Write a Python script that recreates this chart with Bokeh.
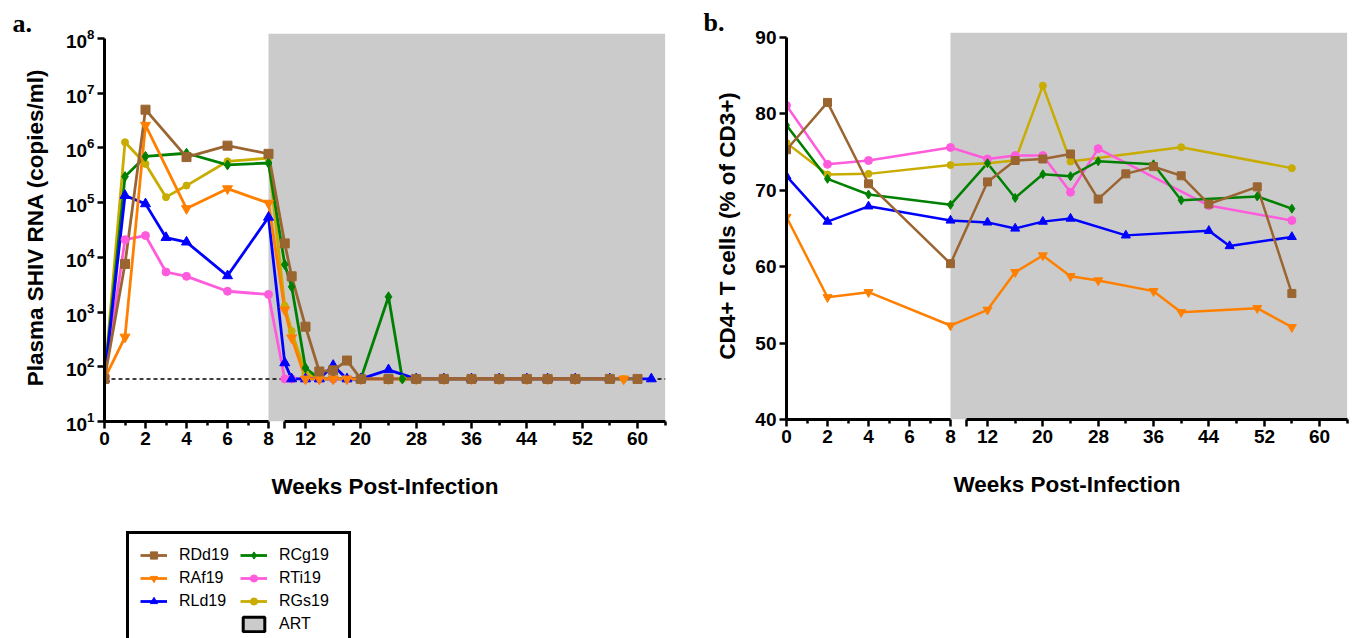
from bokeh.plotting import figure
from bokeh.models import (Range1d, FixedTicker, BoxAnnotation, Span, Legend,
                          LegendItem, LogTickFormatter)
from bokeh.layouts import row, column
from bokeh.embed import file_html
from bokeh.resources import INLINE

# ---------------- data ----------------
series_names = ["RDd19", "RAf19", "RLd19", "RCg19", "RTi19", "RGs19"]

# Panel a: plasma SHIV RNA (copies/ml); 60 = limit of detection
a_weeks_RDd19 = [0, 1, 2, 4, 6, 8, 9, 10, 12, 14, 16, 18, 20, 24, 28, 32, 36, 40, 44, 47, 51, 56, 60]
a_vals_RDd19 = [60, 7600, 5.0e6, 6.8e5, 1.1e6, 7.8e5, 1.8e4, 4500, 540, 82, 86, 130, 60, 60, 60, 60, 60, 60, 60, 60, 60, 60, 60]

a_weeks_RAf19 = [0, 1, 2, 4, 6, 8, 9, 10, 12, 14, 16, 18, 20, 24, 28, 32, 36, 40, 44, 47, 51, 58]
a_vals_RAf19 = [60, 350, 2.6e6, 7.8e4, 1.8e5, 9.8e4, 1100, 340, 60, 60, 60, 60, 60, 60, 60, 60, 60, 60, 60, 60, 60, 60]

a_weeks_RLd19 = [0, 1, 2, 3, 4, 6, 8, 9, 10, 12, 14, 16, 18, 20, 24, 28, 32, 36, 40, 44, 47, 51, 56, 62]
a_vals_RLd19 = [60, 1.35e5, 9.5e4, 2.3e4, 1.9e4, 4600, 5.4e4, 118, 60, 60, 60, 106, 60, 60, 88, 60, 60, 60, 60, 60, 60, 60, 60, 60]

a_weeks_RCg19 = [0, 1, 2, 4, 6, 8, 9, 10, 12, 14, 16, 18, 20, 24, 26, 28, 32, 36, 40, 44, 47, 51, 56]
a_vals_RCg19 = [60, 3.0e5, 7.0e5, 8.0e5, 4.9e5, 5.3e5, 7400, 2900, 95, 60, 60, 60, 60, 1900, 60, 60, 60, 60, 60, 60, 60, 60, 60]

a_weeks_RTi19 = [0, 1, 2, 3, 4, 6, 8, 9, 10, 12, 14, 16, 18, 20, 24, 28, 32, 36, 40, 44, 47, 51, 56]
a_vals_RTi19 = [60, 2.1e4, 2.5e4, 5400, 4500, 2400, 2100, 60, 60, 60, 60, 60, 60, 60, 60, 60, 60, 60, 60, 60, 60, 60, 60]

a_weeks_RGs19 = [0, 1, 2, 3, 4, 6, 8, 9, 10, 12, 14, 16, 18, 20, 24, 26, 28, 32, 36, 40, 44, 47, 51, 58]
a_vals_RGs19 = [60, 1.27e6, 5.1e5, 1.26e5, 2.05e5, 5.7e5, 6.5e5, 1300, 450, 75, 60, 60, 60, 60, 60, 60, 60, 60, 60, 60, 60, 60, 60, 60]

lod_value = 60

# Panel b: CD4+ T cells (% of CD3+)
b_weeks_RDd19 = [0, 2, 4, 8, 12, 16, 20, 24, 28, 32, 36, 40, 44, 51, 56]
b_vals_RDd19 = [75.3, 81.5, 70.85, 60.4, 71.1, 73.9, 74.1, 74.75, 68.85, 72.15, 73.1, 71.9, 68.2, 70.45, 56.5]

b_weeks_RAf19 = [0, 2, 4, 8, 12, 16, 20, 24, 28, 36, 40, 51, 56]
b_vals_RAf19 = [66.5, 56.0, 56.66, 52.3, 54.36, 59.28, 61.47, 58.76, 58.2, 56.8, 54.05, 54.57, 52.08]

b_weeks_RLd19 = [0, 2, 4, 8, 12, 16, 20, 24, 32, 44, 47, 56]
b_vals_RLd19 = [71.85, 65.9, 67.9, 66.05, 65.8, 65.0, 65.9, 66.3, 64.1, 64.7, 62.7, 63.9]

b_weeks_RCg19 = [0, 2, 4, 8, 12, 16, 20, 24, 28, 36, 40, 51, 56]
b_vals_RCg19 = [78.5, 71.5, 69.45, 68.1, 73.55, 69.0, 72.1, 71.85, 73.8, 73.4, 68.7, 69.2, 67.6]

b_weeks_RTi19 = [0, 2, 4, 8, 12, 16, 20, 24, 28, 44, 56]
b_vals_RTi19 = [81.1, 73.4, 73.9, 75.6, 74.1, 74.55, 74.55, 69.75, 75.45, 68.0, 66.05]

b_weeks_RGs19 = [0, 2, 4, 8, 12, 16, 20, 24, 40, 56]
b_vals_RGs19 = [76.2, 72.07, 72.15, 73.3, 73.55, 73.9, 83.7, 73.77, 75.64, 72.9]

# axis ticks (weeks)
seg1_major = [0, 2, 4, 6, 8]
seg1_minor = [1, 3, 5, 7]
seg2_major = [12, 20, 28, 36, 44, 52, 60]
seg2_minor = [16, 24, 32, 40, 48, 56, 64]
seg2_start = 9
art_start, art_end = 8, 64
a_yticks = [10, 100, 1000, 10**4, 10**5, 10**6, 10**7, 10**8]
b_yticks = [40, 50, 60, 70, 80, 90]

# ---------------- styling ----------------
colors = {"RDd19": "#9A6531", "RAf19": "#FF8000", "RLd19": "#0000FF",
          "RCg19": "#008000", "RTi19": "#FF5CDD", "RGs19": "#C8AC00"}
markers = {"RDd19": "square", "RAf19": "inverted_triangle", "RLd19": "triangle",
           "RCg19": "diamond", "RTi19": "circle", "RGs19": "circle"}
size_a = {"RDd19": 9, "RAf19": 10, "RLd19": 10, "RCg19": 10, "RTi19": 8, "RGs19": 7}
size_b = {"RDd19": 8, "RAf19": 9, "RLd19": 9, "RCg19": 9, "RTi19": 8, "RGs19": 7}

FONT = "Liberation Sans"
FRAME_W = 561


def tx(w):
    """broken-axis position (pixels from week 0)."""
    if w <= 8:
        return 20.5 * w
    if w <= 9:
        return 164.0 + 16.25 * (w - 8)
    return 180.25 + 6.917 * (w - 9)


def style_xaxis(ax):
    majors = seg1_major + [seg2_start] + seg2_major
    ticks = [int(round(tx(w))) for w in majors]
    ax.ticker = FixedTicker(ticks=ticks, minor_ticks=[tx(w) for w in seg1_minor + seg2_minor])
    ax.major_label_overrides = {int(round(tx(w))): ("" if w == seg2_start else str(w)) for w in majors}
    ax.bounds = (0, FRAME_W)
    gap0 = int(round(tx(8)))
    gap1 = int(round(tx(seg2_start)))
    ax.axis_line_dash = f"{gap0} {gap1 - gap0} {FRAME_W}"
    ax.axis_line_width = 3
    ax.major_tick_line_width = 2.5
    ax.minor_tick_line_width = 2.5
    ax.major_tick_out = 7
    ax.major_tick_in = 0
    ax.minor_tick_out = 4
    ax.minor_tick_in = 0
    ax.major_label_text_font = FONT
    ax.major_label_text_font_style = "bold"
    ax.major_label_text_font_size = "19px"
    ax.major_label_text_color = "black"
    ax.major_label_standoff = 3
    ax.axis_label = "Weeks Post-Infection"
    ax.axis_label_text_font = FONT
    ax.axis_label_text_font_style = "bold"
    ax.axis_label_text_font_size = "22.5px"
    ax.axis_label_text_color = "black"
    ax.axis_label_standoff = 26


def style_yaxis(ax, label, ticks, standoff):
    ax.ticker = FixedTicker(ticks=ticks, minor_ticks=[])
    ax.bounds = (ticks[0], ticks[-1])
    ax.axis_line_width = 3
    ax.major_tick_line_width = 2.5
    ax.major_tick_out = 7
    ax.major_tick_in = 0
    ax.minor_tick_line_color = None
    ax.major_label_text_font = FONT
    ax.major_label_text_font_style = "bold"
    ax.major_label_text_font_size = "19px"
    ax.major_label_text_color = "black"
    ax.major_label_standoff = 3
    ax.axis_label = label
    ax.axis_label_text_font = FONT
    ax.axis_label_text_font_style = "bold"
    ax.axis_label_text_font_size = "22.5px"
    ax.axis_label_text_color = "black"
    ax.axis_label_standoff = standoff


def base_fig(panel_label, label_offset, **kw):
    p = figure(output_backend="svg", toolbar_location=None,
               x_range=Range1d(0, FRAME_W), frame_width=FRAME_W, **kw)
    p.xgrid.visible = False
    p.ygrid.visible = False
    p.outline_line_color = None
    p.background_fill_color = "white"
    p.border_fill_color = "white"
    p.title.text = panel_label
    p.title.text_font = "Liberation Serif"
    p.title.text_font_style = "bold"
    p.title.text_font_size = "26px"
    p.title.text_color = "black"
    p.title.align = "left"
    p.title.offset = label_offset
    p.title.standoff = -9
    p.add_layout(BoxAnnotation(left=tx(art_start), right=tx(art_end),
                               fill_color="#CBCBCB", fill_alpha=1.0,
                               line_color=None, level="underlay"))
    return p


def draw_series(p, data, sizes, lw, visible=True):
    order = ["RGs19", "RTi19", "RCg19", "RLd19", "RAf19", "RDd19"]
    out = {}
    for n in order:
        w, v = data[n]
        out[n] = [p.line([tx(x) for x in w], v, line_color=colors[n], line_width=lw,
                         visible=visible)]
    for n in order:
        w, v = data[n]
        out[n].append(p.scatter([tx(x) for x in w], v, marker=markers[n], size=sizes[n],
                                fill_color=colors[n], line_color=colors[n], visible=visible))
    return out


data_a = {"RDd19": (a_weeks_RDd19, a_vals_RDd19), "RAf19": (a_weeks_RAf19, a_vals_RAf19),
          "RLd19": (a_weeks_RLd19, a_vals_RLd19), "RCg19": (a_weeks_RCg19, a_vals_RCg19),
          "RTi19": (a_weeks_RTi19, a_vals_RTi19), "RGs19": (a_weeks_RGs19, a_vals_RGs19)}
data_b = {"RDd19": (b_weeks_RDd19, b_vals_RDd19), "RAf19": (b_weeks_RAf19, b_vals_RAf19),
          "RLd19": (b_weeks_RLd19, b_vals_RLd19), "RCg19": (b_weeks_RCg19, b_vals_RCg19),
          "RTi19": (b_weeks_RTi19, b_vals_RTi19), "RGs19": (b_weeks_RGs19, b_vals_RGs19)}

# ---------------- panel a ----------------
pa = base_fig("a.", -92, frame_height=388, y_axis_type="log",
              y_range=Range1d(10, 10 ** 8.0914),
              min_border_left=104, min_border_right=35,
              min_border_top=33, min_border_bottom=100)
pa.add_layout(Span(location=lod_value, dimension="width", line_color="black",
                   line_width=1.5, line_dash="4 3", level="underlay"))
draw_series(pa, data_a, size_a, 2.8)
style_xaxis(pa.xaxis[0])
style_yaxis(pa.yaxis[0], "Plasma SHIV RNA (copies/ml)", a_yticks, 15)
pa.yaxis[0].formatter = LogTickFormatter()

# ---------------- legend (below panel a) ----------------
# key-only figure: same series, hidden (its view shows nothing), used for the legend swatches
lg = figure(output_backend="svg", toolbar_location=None, frame_width=700, frame_height=117,
            x_range=Range1d(0, 1), y_range=Range1d(0, 1),
            x_axis_location=None, y_axis_location=None, min_border=0)
lg.xgrid.visible = False
lg.ygrid.visible = False
lg.outline_line_color = None
lg_r = draw_series(lg, data_a, size_a, 2.8, visible=False)
art_r = lg.quad(left=[tx(art_start)], right=[tx(art_end)], bottom=[a_yticks[0]], top=[a_yticks[-1]],
                fill_color="#CBCBCB", line_color="black", line_width=3, visible=False)
items = [LegendItem(label=n, renderers=lg_r[n]) for n in ["RDd19", "RAf19", "RLd19"]]
items.append(LegendItem(label=" ", renderers=[]))
items += [LegendItem(label=n, renderers=lg_r[n]) for n in ["RCg19", "RTi19", "RGs19"]]
items.append(LegendItem(label="ART", renderers=[art_r]))
legend = Legend(items=items, location=(126, -10), ncols=2,
                label_text_font=FONT, label_text_font_size="16px", label_text_color="black",
                glyph_width=27, glyph_height=18, label_standoff=12,
                label_width=58, label_height=20, spacing=3, padding=11,
                border_line_color="black", border_line_width=3, border_line_alpha=1.0,
                background_fill_color="white", background_fill_alpha=1.0,
                click_policy="none")
lg.add_layout(legend)

# ---------------- panel b ----------------
pb = base_fig("b.", -83, frame_height=387, y_range=Range1d(40, 90.654),
              min_border_left=86, min_border_right=5,
              min_border_top=32, min_border_bottom=219)
draw_series(pb, data_b, size_b, 2.5)
style_xaxis(pb.xaxis[0])
style_yaxis(pb.yaxis[0], "CD4+ T cells (% of CD3+)", b_yticks, 12)

layout = row(column(pa, lg), pb)
open("out.html", "w").write(file_html(layout, INLINE))
